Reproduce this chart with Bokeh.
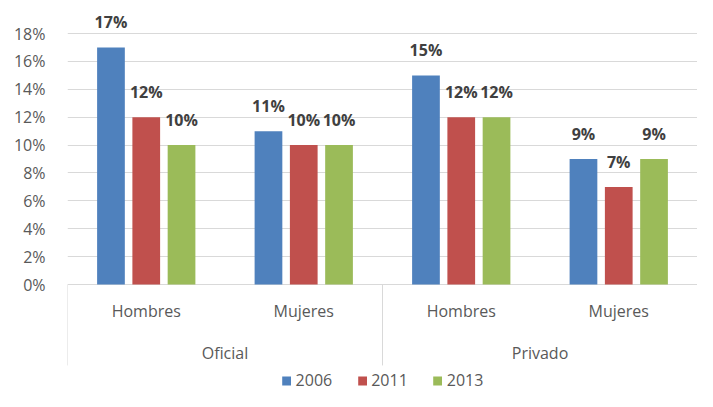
from bokeh.plotting import figure
from bokeh.models import (FactorRange, ColumnDataSource, FixedTicker, Range1d,
                          Legend, LegendItem)
from bokeh.transform import dodge
from bokeh.core.properties import value
from bokeh.embed import file_html
from bokeh.resources import INLINE

# ---- data ----
groups = ["Oficial", "Privado"]
sexes = ["Hombres", "Mujeres"]
years = ["2006", "2011", "2013"]
v2006 = [17, 11, 15, 9]
v2011 = [12, 10, 12, 7]
v2013 = [10, 10, 12, 9]
y_ticks = [0, 2, 4, 6, 8, 10, 12, 14, 16, 18]

# ---- styles ----
colors = ["#4F81BD", "#C0504D", "#9BBB59"]
FONT = "Open Sans"
FS = "16px"
grid_col = "#D9D9D9"
txt_col = "#595959"

factors = [(g, s) for g in groups for s in sexes]
src = ColumnDataSource(dict(
    x=factors, sex=[s for g in groups for s in sexes],
    v2006=v2006, v2011=v2011, v2013=v2013,
    l2006=[f"{v}%" for v in v2006],
    l2011=[f"{v}%" for v in v2011],
    l2013=[f"{v}%" for v in v2013],
))

p = figure(
    x_range=FactorRange(*factors, range_padding=0, factor_padding=0, group_padding=0),
    y_range=Range1d(-7.67, 20.37),
    width=697, height=391,
    output_backend="svg", toolbar_location=None,
    x_axis_location=None,
    min_border_left=67, min_border_right=0, min_border_top=0, min_border_bottom=0,
)
p.outline_line_color = None
p.xgrid.grid_line_color = None
p.ygrid.grid_line_color = grid_col
p.ygrid.grid_line_width = 1

ya = p.yaxis[0]
ya.ticker = FixedTicker(ticks=y_ticks)
ya.major_label_overrides = {t: f"{t}%" for t in y_ticks}
ya.axis_line_color = None
ya.major_tick_line_color = None
ya.minor_tick_line_color = None
ya.major_label_standoff = 16
ya.major_label_text_font = FONT
ya.major_label_text_font_size = FS
ya.major_label_text_color = txt_col

offsets = [-0.224, 0.0, 0.224]
bar_w = 0.176
items = []
for yr, col, off in zip(years, colors, offsets):
    r = p.vbar(x=dodge("x", off, range=p.x_range), top="v" + yr, width=bar_w,
               color=col, line_color=None, source=src)
    items.append(LegendItem(label=yr, renderers=[r]))
    p.text(x=dodge("x", off, range=p.x_range), y="v" + yr, text="l" + yr,
           source=src, text_align="center", text_baseline="bottom",
           y_offset=-14, text_font=value(FONT), text_font_size=FS,
           text_font_style="bold", text_color="#404040")

# category axis (Excel-style multi-level)
p.text(x="x", y=0, text="sex", source=src, text_align="center",
       text_baseline="middle", y_offset=26, text_font=value(FONT),
       text_font_size=FS, text_color=txt_col)
gsrc = ColumnDataSource(dict(x=groups, t=groups))
p.text(x="x", y=0, text="t", source=gsrc, text_align="center",
       text_baseline="middle", y_offset=68, text_font=value(FONT),
       text_font_size=FS, text_color=txt_col)
bounds = [(g, sexes[0], -0.5) for g in groups]
p.segment(x0=bounds, y0=0, x1=bounds, y1=-5.8, line_color=grid_col, line_width=1)

legend = Legend(items=items, location="bottom_center", orientation="horizontal",
                glyph_width=11, glyph_height=11, label_standoff=4, spacing=24,
                label_text_font=FONT, label_text_font_size=FS,
                label_text_color=txt_col, background_fill_alpha=0,
                border_line_color=None, padding=0, margin=0)
p.add_layout(legend, "center")

open("out.html", "w").write(file_html(p, INLINE))
